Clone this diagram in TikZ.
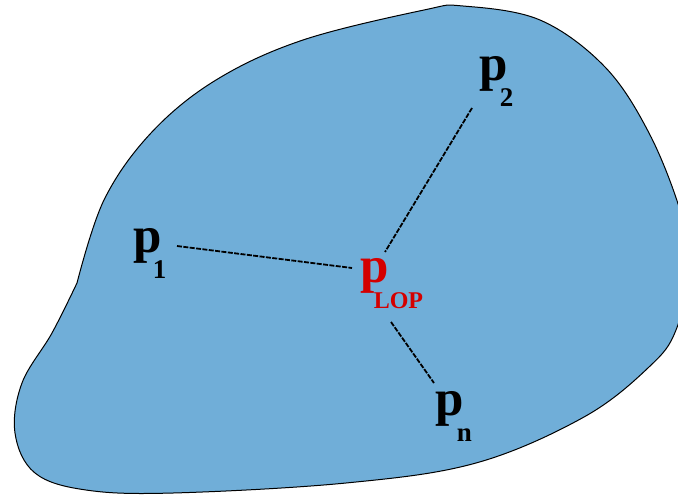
\documentclass[tikz,border=0pt]{standalone}
\usepackage{fontspec}
\setmainfont{Liberation Serif}
\usepackage{xcolor}
\usetikzlibrary{calc}
\definecolor{region}{HTML}{70AED8}
\definecolor{lop}{HTML}{D40000}
\newcommand{\pname}[2][-4.5pt]{p\kern#1\raisebox{-13pt}{\fontsize{13.5}{13.5}\selectfont #2}}

\begin{document}
\begin{tikzpicture}[x=0.5pt,y=-0.5pt,
  blob/.style={draw=black,line width=0.5pt,fill=region},
  lbl/.style={inner sep=0pt,anchor=base west,font=\fontsize{25.5}{25.5}\selectfont\bfseries},
  lnk/.style={line width=0.9pt,dash pattern=on 2.5pt off 0.7pt}]
\useasboundingbox (0,0) rectangle (678,497);
\filldraw[blob] plot[smooth,tension=0.6] coordinates {(77,283) (104,200) (151,133) (216,80) (303,40) (424,10) (463,6) (540,20) (605,67) (649,133) (680,210) (690,265) (676,330) (649,367) (584,417) (476,463) (346,483) (173,493) (86,490) (35,473) (15,433) (22,383) (52,333) (77,283)} -- cycle;
\node[lbl] (p1) at (133,252) {\pname{1}};
\node[lbl] (p2) at (479,81) {\pname[-4pt]{2}};
\node[lbl,text=lop] (plop) at (360,282) {\pname[-7.5pt]{\fontsize{12}{12}\selectfont LOP}};
\node[lbl] (pn) at (435,415) {\pname[-3.5pt]{n}};
\draw[lnk] ($(p1.base west)+(44,-6)$) -- ($(plop.base west)+(-8,-14)$);
\draw[lnk] ($(p2.base west)+(-7,27)$) -- ($(plop.base west)+(25,-30)$);
\draw[lnk] ($(plop.base west)+(31,40)$) -- ($(pn.base west)+(-1,-32)$);
\end{tikzpicture}
\end{document}
